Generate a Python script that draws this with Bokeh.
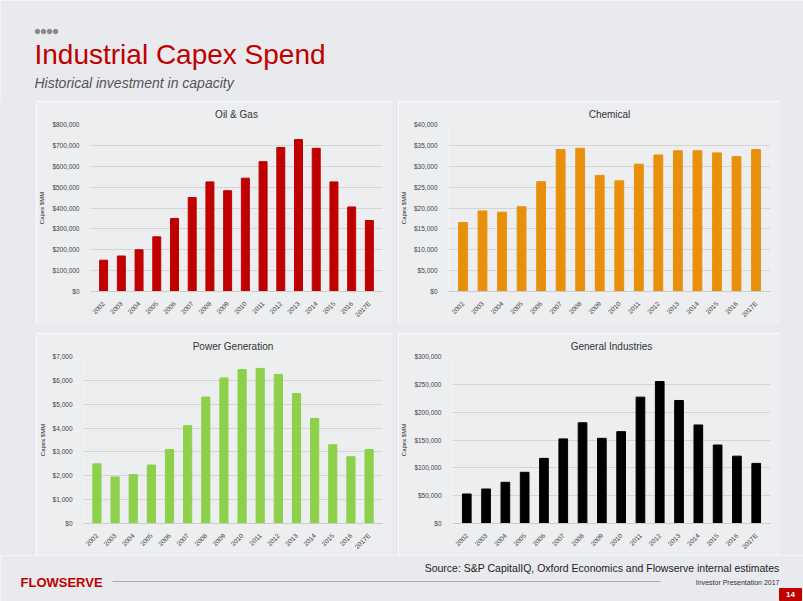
from bokeh.plotting import figure
from bokeh.layouts import column, row, Spacer
from bokeh.models import NumeralTickFormatter, FixedTicker, Range1d
from bokeh.core.properties import value
from bokeh.embed import file_html
from bokeh.resources import INLINE
import math

years = ["2002","2003","2004","2005","2006","2007","2008","2009","2010","2011","2012","2013","2014","2015","2016","2017E"]
oil_gas = [150000,170000,200000,262000,350000,450000,525000,483000,543000,622000,690000,728000,686000,525000,405000,340000]
chemical = [16500,19300,19000,20300,26300,34000,34300,27800,26500,30500,32700,33700,33700,33200,32300,34000]
power = [2500,1950,2050,2450,3100,4100,5300,6100,6450,6500,6250,5450,4400,3300,2800,3100]
general = [53000,62000,74000,92000,117000,152000,181000,153000,165000,227000,255000,221000,177000,141000,121000,108000]

BG = "#e8eaed"
PANEL = "#eceef0"
F = value("Liberation Sans")

def chart(title, vals, color, ymax, step, w, h):
    p = figure(x_range=years, y_range=Range1d(0, ymax), width=w, height=h,
               output_backend="svg", toolbar_location=None, title=title,
               background_fill_color=PANEL, border_fill_color=PANEL,
               min_border_left=0, min_border_right=10, min_border_top=4, min_border_bottom=0)
    p.vbar(x=years, top=vals, width=0.45, color=color)
    p.title.align = "center"
    p.title.text_font = "Liberation Sans"
    p.title.text_font_style = "normal"
    p.title.text_font_size = "10px"
    p.title.text_color = "#333333"
    p.yaxis.formatter = NumeralTickFormatter(format="$0,0")
    p.yaxis.ticker = FixedTicker(ticks=list(range(0, ymax + 1, step)))
    p.yaxis.axis_label = "Capex $MM"
    p.yaxis.axis_label_text_font_size = "6px"
    p.yaxis.axis_label_text_font = "Liberation Sans"
    p.yaxis.axis_label_text_font_style = "normal"
    p.yaxis.axis_label_text_color = "#222222"
    p.yaxis.axis_label_standoff = 4
    for ax in (p.xaxis, p.yaxis):
        ax.major_label_text_font_size = "6.5px"
        ax.major_label_text_font = "Liberation Sans"
        ax.major_label_text_color = "#444444"
        ax.axis_line_color = None
        ax.major_tick_line_color = None
        ax.minor_tick_line_color = None
    p.xaxis.axis_line_color = "#cccccc"
    p.xaxis.major_label_orientation = math.pi / 4
    p.xgrid.grid_line_color = None
    p.ygrid.grid_line_color = "#d4d4d4"
    p.outline_line_color = None
    p.x_range.range_padding = 0.03
    return p

W = 803
header = figure(width=W, height=101, x_range=Range1d(0, W), y_range=Range1d(101, 0),
                output_backend="svg", toolbar_location=None, background_fill_color=BG,
                border_fill_color=BG, min_border=0)
header.axis.visible = False
header.grid.visible = False
header.outline_line_color = None
header.scatter(x=[37, 43, 49, 55], y=[31, 31, 31, 31], size=4.5, color="#888888")
header.text(x=[34], y=[54], text=["Industrial Capex Spend"], text_color="#c00000",
            text_font_size="28px", text_baseline="middle", text_font=F)
header.text(x=[34], y=[82], text=["Historical investment in capacity"], text_color="#555555",
            text_font_size="14px", text_font_style="italic", text_baseline="middle", text_font=F)

p1 = chart("Oil & Gas", oil_gas, "#c00000", 800000, 100000, 356, 222)
p2 = chart("Chemical", chemical, "#e8900c", 40000, 5000, 382, 222)
p3 = chart("Power Generation", power, "#8dd04a", 7000, 1000, 356, 222)
p4 = chart("General Industries", general, "#000000", 300000, 50000, 382, 222)

footer = figure(width=W, height=46, x_range=Range1d(0, W), y_range=Range1d(601, 555),
                output_backend="svg", toolbar_location=None, background_fill_color=BG,
                border_fill_color=BG, min_border=0)
footer.axis.visible = False
footer.grid.visible = False
footer.outline_line_color = None
footer.text(x=[779], y=[567], text=["Source: S&P CapitalIQ, Oxford Economics and Flowserve internal estimates"],
            text_align="right", text_baseline="middle", text_font_size="10.5px", text_color="#222222",
            text_font=F)
footer.text(x=[20], y=[582], text=["FLOWSERVE"], text_baseline="middle", text_font_size="13px",
            text_font_style="bold", text_color="#c00000", text_font=F)
footer.segment(x0=[112], y0=[581], x1=[660], y1=[581], color="#aaaaaa", line_width=1)
footer.text(x=[779], y=[582], text=["Investor Presentation 2017"], text_align="right", text_baseline="middle",
            text_font_size="7px", text_color="#333333", text_font=F)
footer.rect(x=[790], y=[594], width=22, height=12, color="#c00000")
footer.text(x=[790], y=[594], text=["14"], text_align="center", text_baseline="middle",
            text_font_size="8px", text_font_style="bold", text_color="white", text_font=F)

def sp(w, h):
    return Spacer(width=w, height=h, styles={"background-color": BG})

layout = column(
    header,
    row(sp(36, 222), p1, sp(6, 222), p2, sp(23, 222), spacing=0),
    sp(W, 10),
    row(sp(36, 222), p3, sp(6, 222), p4, sp(23, 222), spacing=0),
    footer,
    spacing=0,
)

open("out.html", "w").write(file_html(layout, INLINE))
